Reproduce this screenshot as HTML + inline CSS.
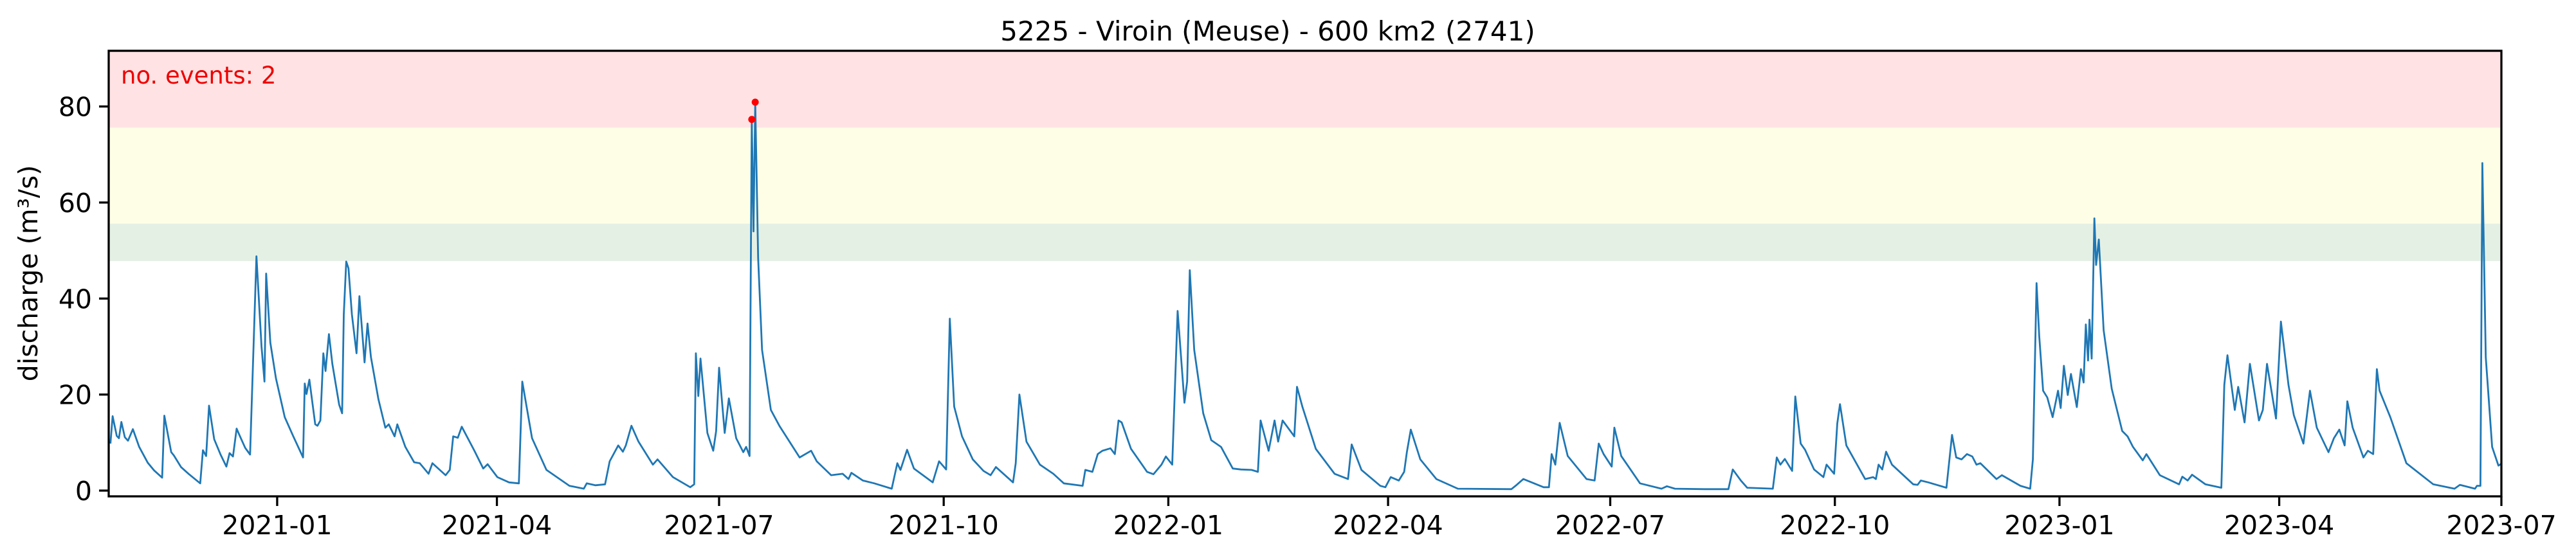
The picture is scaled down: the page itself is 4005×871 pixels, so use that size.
<!DOCTYPE html>
<html><head><meta charset="utf-8"><style>
html,body{margin:0;padding:0;background:#fff;}
svg{display:block;font-family:"DejaVu Sans","Liberation Sans",sans-serif;}
</style></head><body>
<svg id="chart" width="4005" height="871" viewBox="0 0 4005 871" xmlns="http://www.w3.org/2000/svg">
<g id="bands"></g>
<g id="series"></g>
<g id="axes"></g>
<text x="1971" y="63" font-size="42" text-anchor="middle" fill="#000">5225 - Viroin (Meuse) - 600 km2 (2741)</text>
<text x="188" y="130" font-size="37" fill="#ee0000">no. events: 2</text>
<text transform="translate(58,425) rotate(-90)" font-size="41" text-anchor="middle" fill="#000">discharge (m³/s)</text>
</svg>
<script>
// days since 2021-01-01
const days = [-68.3,-67.4,-65.7,-64.8,-63.8,-62.4,-61.1,-59.1,-56.5,-53,-50.4,-47.1,-46.2,-43.4,-42.3,-39.4,-36.3,-31.5,-30.4,-29.1,-27.9,-25.8,-23.2,-20.8,-19.5,-18.1,-16.6,-15.3,-13.1,-11.1,
-8.5,-6.4,-5.2,-4.5,-2.8,-0.5,3.1,6.6,10.6,11.3,12,13.2,15.6,16.5,17.7,18.9,19.8,21.2,22.6,25.4,26.6,27.3,28.3,29.2,30.6,32.5,33.7,35.8,37,38.4,41.5,44.3,45.7,48.1,49.2,52.5,56.1,58.4,62,63.6,69,70.7,72.1,74,75.6,80.8,84.4,86.2,90.2,95,99,100.4,104.4,110.3,119.7,125.6,126.8,130.3,134.3,136.2,139.7,141.6,142.8,145.1,148,153.9,155.8,162.1,169.2,170.8,171.5,172.5,173.4,176.2,178.6,179.8,181,183.3,185,188,190.9,192.1,193.5,194.4,195.1,195.8,197,198.6,202.2,205.7,214,218.7,221,226.9,231.6,234,235.2,239.9,244.6,251.7,254,
255.3,258,260.8,268.5,271.1,274,275.5,277.3,280.5,284.9,289.3,292.2,294.4,301.4,302.5,304,306.9,312.4,317.9,322.2,329.9,331,333.9,336.1,338,341.3,343.1,344.6,345.9,349.7,356.3,358.9,362.2,364,366.6,368.8,371.6,372.7,373.8,375.6,379.3,382.6,386.6,391.4,394.7,399.1,401.7,402.8,406.1,408.5,410,411.8,416.6,417.7,419.9,425.4,433.1,438.6,440.1,444.1,451.8,453.9,456.1,459.4,461.6,462.7,464.3,468.2,474.8,483.6,505.5,507.7,510.4,518.7,520.9,522,523.5,525.3,528.6,536.3,539.6,541.3,543.3,546.6,547.7,550.5,558.2,567,569.2,572.5,584.6,594.4,596.2,599.5,
602.1,612.6,614.2,615.7,617.5,620.5,621.8,624,625.8,629.5,633.3,634.6,637.7,639,640.1,642.7,650.4,653.7,654.8,655.9,657.4,659,661.4,670.1,671.9,673.2,676.3,683.7,686,687.7,689.9,692.1,694.3,696,697.6,704.2,706.4,714,718,719.1,720.6,721.7,723.3,725,727.2,729.4,730.5,731.8,733.4,734.7,737.1,738.8,739.9,740.8,741.7,742.3,743.2,744.3,745,746.1,748.1,751.4,755.7,757.9,760.1,764.1,765.6,771.1,779,780.3,782.5,784.3,789.8,796.3,797.5,798.8,801.8,803.2,805.8,808,811.7,813.3,815,818.7,820.7,823.8,826,829.9,832.6,835.4,840.2,842.4,844.6,846.8,847.9,850.1,854.5,856.3,858.5,860,861.1,865.5,872.1,883.1,891.8,894,900.2,901,902.4,903.2,904.6,907.2,909.8,911];
const discharge = [9.8,15.5,11.4,10.9,14.3,11.1,10.4,12.8,9.1,5.8,4.2,2.7,15.6,8.0,7.3,4.9,3.5,1.5,8.4,7.2,17.7,10.7,7.5,5.0,7.8,7.1,12.9,11.4,8.9,7.5,
48.8,30,22.7,45.2,30.8,23.4,15.3,11.3,6.9,22.3,20.1,23.1,13.8,13.5,14.6,28.6,24.9,32.6,26.4,17.9,16.1,36.7,47.7,46.3,36.7,28.6,40.5,26.7,34.8,27.8,19,13.1,13.8,11.3,13.8,9.1,5.9,5.7,3.5,5.7,3.2,4.3,11.3,11.0,13.3,8.3,4.6,5.5,2.8,1.7,1.5,22.7,10.9,4.3,1.0,0.4,1.5,1.1,1.3,6.1,9.4,8.1,9.4,13.5,10.2,5.4,6.5,2.8,0.7,1.3,28.6,19.7,27.5,12,8.3,12.4,25.6,12,19.2,10.9,8,9.1,7.2,77.3,54,80.9,48.5,29.3,16.8,13.5,6.9,8.3,6.1,3.2,3.5,2.4,3.7,2.1,1.5,0.4,5.7,
4.3,8.5,4.6,1.7,6.1,4.4,35.8,17.5,11.3,6.5,4.1,3.2,4.9,1.7,5.7,20,10.2,5.4,3.5,1.5,1.0,4.3,3.9,7.6,8.3,8.8,7.6,14.6,14.2,8.7,3.9,3.4,5.4,7.1,5.4,37.4,18.3,22.7,45.9,29.3,16.1,10.5,9.1,4.6,4.4,4.3,3.9,14.6,8.3,14.6,10.2,14.6,11.3,21.6,17.5,8.7,3.5,2.4,9.6,4.3,1.0,0.7,2.8,2.1,3.9,8.0,12.7,6.5,2.4,0.4,0.3,1.2,2.4,0.7,0.7,7.6,5.4,14.1,7.2,2.4,2.1,9.8,7.6,5,13.1,7.2,1.5,0.4,0.9,0.4,0.3,0.3,4.4,2.1,
0.6,0.4,6.9,5.4,6.6,4.1,19.6,9.8,8.5,4.4,2.8,5.4,3.5,14,18,9.4,2.4,2.8,2.4,5.4,4.4,8.1,5.4,1.3,1.2,2.1,1.7,0.6,11.6,6.9,6.5,7.6,7.1,5.4,5.7,2.4,3.2,1.0,0.4,6.5,43.2,32.3,20.8,19.4,15.3,20.8,17.2,26,19.9,24.3,17.4,25.3,22.5,34.6,27.1,35.6,27.5,56.7,47,52.3,33.4,21.2,12.4,11.3,9.1,6.3,7.6,3.2,1.3,2.9,2.1,3.3,1.3,0.6,22,28.2,16.8,21.6,14.2,26.4,14.6,16.8,26.4,15,35.2,22,15.7,9.8,20.8,13.1,8,10.9,12.7,9.4,18.6,13.1,6.9,8.3,7.6,25.3,20.8,15.3,5.7,1.3,0.4,1.2,0.4,1.0,1.0,68.2,27.8,9.1,5.2,5.6];
const eventDays = [194.4, 195.8];
const eventValues = [77.3, 80.9];
const yTicks = [0, 20, 40, 60, 80];
const xTickLabels = ["2021-01","2021-04","2021-07","2021-10","2022-01","2022-04","2022-07","2022-10","2023-01","2023-04","2023-07"];
const xTickDays = [0, 90, 181, 273, 365, 455, 546, 638, 730, 820, 911];
const bandLimits = [[75.6, 91.6, "#ffe3e4"], [55.6, 75.6, "#fefee6"], [47.8, 55.6, "#e5f0e5"]];

const L=169, R=3889, T=79, B=772;
const dMin=-69, dMax=911, vMin=-1.2, vMax=91.6;
const xs = d => L + (d - dMin) / (dMax - dMin) * (R - L);
const ys = v => B - (v - vMin) / (vMax - vMin) * (B - T);
const NS="http://www.w3.org/2000/svg";
function mk(tag, attrs, parent){const e=document.createElementNS(NS,tag);for(const k in attrs)e.setAttribute(k,attrs[k]);parent.appendChild(e);return e;}

const bands=document.getElementById('bands');
bandLimits.forEach((b,i)=>{
  const r=mk('rect',{x:L,y:ys(b[1]),width:R-L,height:ys(b[0])-ys(b[1]),fill:b[2]},bands);
  
  
});

const series=document.getElementById('series');
let dstr=days.map((d,i)=>(i?'L':'M')+xs(d).toFixed(1)+' '+ys(discharge[i]).toFixed(1)).join(' ');
const line=mk('path',{d:dstr,fill:'none',stroke:'#1f77b4','stroke-width':2.8,'stroke-linejoin':'round'},series);


eventDays.forEach((d,i)=>{
  const c=mk('circle',{cx:xs(d),cy:ys(eventValues[i]),r:5.5,fill:'#ff0000'},series);
  
  
});

const axes=document.getElementById('axes');
const frame=mk('rect',{x:L,y:T,width:R-L,height:B-T,fill:'none',stroke:'#000','stroke-width':3.3},axes);


yTicks.forEach(v=>{
  const y=ys(v);
  const t=mk('line',{x1:L-15,x2:L,y1:y,y2:y,stroke:'#000','stroke-width':3.3},axes);
  
  
  const lb=mk('text',{x:L-26,y:y+15,'font-size':41,'text-anchor':'end',fill:'#000'},axes);
  lb.textContent=v;
  
  
});
xTickDays.forEach((d,i)=>{
  const x=xs(d);
  const t=mk('line',{x1:x,x2:x,y1:B,y2:B+15,stroke:'#000','stroke-width':3.3},axes);
  
  
  const lb=mk('text',{x:x,y:831,'font-size':41,'text-anchor':'middle',fill:'#000'},axes);
  lb.textContent=xTickLabels[i];
  
  
});
</script>
</body></html>
